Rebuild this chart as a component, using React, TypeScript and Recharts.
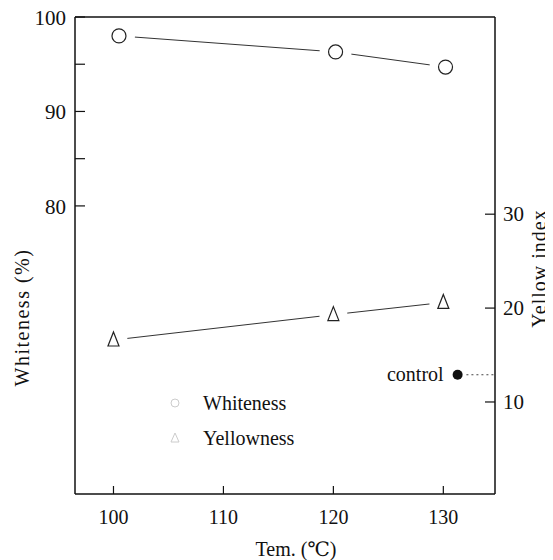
import React from 'react'
import { ComposedChart, Line, Scatter, XAxis, YAxis, ReferenceLine, Label } from 'recharts'

const whitenessTemp = [100.5, 120.2, 130.2]
const whitenessValues = [98.0, 96.3, 94.7]
const yellowTemp = [100, 120, 130]
const yellowValues = [16.6, 19.3, 20.6]
const controlTemp = [131.3]
const controlValues = [12.9]
const xTicks = [100, 110, 120, 130]
const leftTicks = [80, 85, 90, 95, 100]
const leftLabels = [80, 90, 100]
const rightTicks = [10, 20, 30]
const legendItems = [
    { name: 'Whiteness', marker: 'circle' },
    { name: 'Yellowness', marker: 'triangle' },
]

const FONT = 'Liberation Serif, DejaVu Serif, serif'
const INK = '#111'

const whitenessData = whitenessTemp.map((x, i) => ({ x, y: whitenessValues[i] }))
const yellowData = yellowTemp.map((x, i) => ({ x, y: yellowValues[i] }))
const controlData = controlTemp.map((x, i) => ({ x, y: controlValues[i] }))

const LeftTick = ({ x, y, payload }: any) => (
    <g>
        <line x1={x} y1={y} x2={x + 10} y2={y} stroke={INK} strokeWidth={1.2} />
        {leftLabels.includes(payload.value) && (
            <text x={x - 9} y={y} dy={8} textAnchor="end" style={{ fontFamily: FONT }} fontSize={21} fill={INK}>
                {payload.value}
            </text>
        )}
    </g>
)

const RightTick = ({ x, y, payload }: any) => (
    <g>
        <line x1={x} y1={y} x2={x - 10} y2={y} stroke={INK} strokeWidth={1.2} />
        <text x={x + 8} y={y} dy={7} textAnchor="start" style={{ fontFamily: FONT }} fontSize={21} fill={INK}>
            {payload.value}
        </text>
    </g>
)

const BottomTick = ({ x, y, payload }: any) => (
    <g>
        <line x1={x} y1={y} x2={x} y2={y - 8} stroke={INK} strokeWidth={1.2} />
        <text x={x} y={y} dy={30} textAnchor="middle" style={{ fontFamily: FONT }} fontSize={20} fill={INK}>
            {payload.value}
        </text>
    </g>
)

const CircleDot = ({ cx, cy }: any) => (
    <g>
        <circle cx={cx} cy={cy} r={16} fill="#fff" />
        <circle cx={cx} cy={cy} r={7} fill="#fff" stroke="#222" strokeWidth={1.2} />
    </g>
)

const TriangleDot = ({ cx, cy }: any) => (
    <g>
        <circle cx={cx} cy={cy} r={14} fill="#fff" />
        <path d={`M${cx},${cy - 8} L${cx + 5.5},${cy + 6} L${cx - 5.5},${cy + 6} Z`} fill="#fff" stroke="#222" strokeWidth={1.2} />
    </g>
)

const ControlShape = ({ cx, cy }: any) => (
    <g>
        <circle cx={cx} cy={cy} r={5} fill={INK} />
        <text x={cx - 14} y={cy} dy={6} textAnchor="end" style={{ fontFamily: FONT }} fontSize={20} fill={INK}>
            control
        </text>
    </g>
)

const LeftTitle = ({ viewBox }: any) => {
    const cx = viewBox.x + 7
    const cy = viewBox.y + viewBox.height / 2 + 62
    return (
        <text x={cx} y={cy} dy={7} transform={`rotate(-90 ${cx} ${cy})`} textAnchor="middle"
            style={{ fontFamily: FONT }} fontSize={20} letterSpacing={1.5} fill={INK}>
            Whiteness  (%)
        </text>
    )
}

const RightTitle = ({ viewBox }: any) => {
    const cx = viewBox.x + 44
    const cy = viewBox.y + viewBox.height / 2 + 13
    return (
        <text x={cx} y={cy} dy={7} transform={`rotate(-90 ${cx} ${cy})`} textAnchor="middle"
            style={{ fontFamily: FONT }} fontSize={20} letterSpacing={1} fill={INK}>
            Yellow  index
        </text>
    )
}

const App = () => {
    return (
        // pull the chart over the top/left body margin so edge labels are not clipped
        <div style={{ position: 'relative', width: 553, height: 560, margin: '-8px -8px 0 -8px' }}>
            <ComposedChart width={553} height={560} margin={{ top: 17, right: 8, bottom: 16, left: 15 }}>
                <XAxis
                    type="number"
                    dataKey="x"
                    domain={[96.5, 134.7]}
                    allowDataOverflow
                    ticks={xTicks}
                    interval={0}
                    tickSize={0}
                    tickMargin={0}
                    tickLine={false}
                    tick={<BottomTick />}
                    height={50}
                    axisLine={{ stroke: INK, strokeWidth: 1.5 }}
                >
                    <Label value="Tem.  (℃)" position="bottom" offset={-2} dx={11}
                        style={{ fontFamily: FONT }} fontSize={20} fill={INK} />
                </XAxis>
                <YAxis
                    yAxisId="left"
                    type="number"
                    domain={[49.5, 100]}
                    allowDataOverflow
                    ticks={leftTicks}
                    interval={0}
                    tickSize={0}
                    tickMargin={0}
                    tickLine={false}
                    tick={<LeftTick />}
                    width={60}
                    axisLine={{ stroke: INK, strokeWidth: 1.5 }}
                >
                    <Label content={<LeftTitle />} />
                </YAxis>
                <YAxis
                    yAxisId="right"
                    orientation="right"
                    type="number"
                    domain={[0.2, 51]}
                    allowDataOverflow
                    ticks={rightTicks}
                    interval={0}
                    tickSize={0}
                    tickMargin={0}
                    tickLine={false}
                    tick={<RightTick />}
                    width={50}
                    axisLine={{ stroke: INK, strokeWidth: 1.5 }}
                >
                    <Label content={<RightTitle />} />
                </YAxis>
                <ReferenceLine yAxisId="left" y={100} stroke={INK} strokeWidth={1.5} />
                <ReferenceLine
                    yAxisId="right"
                    segment={[{ x: controlTemp[0] + 0.8, y: controlValues[0] }, { x: 134.7, y: controlValues[0] }]}
                    stroke="#444"
                    strokeDasharray="2 3"
                />
                <Line
                    yAxisId="left"
                    data={whitenessData}
                    dataKey="y"
                    stroke="#333"
                    strokeWidth={1}
                    dot={(p: any) => <CircleDot key={`w-${p.index}`} {...p} />}
                    activeDot={false}
                    isAnimationActive={false}
                />
                <Line
                    yAxisId="right"
                    data={yellowData}
                    dataKey="y"
                    stroke="#333"
                    strokeWidth={1}
                    dot={(p: any) => <TriangleDot key={`y-${p.index}`} {...p} />}
                    activeDot={false}
                    isAnimationActive={false}
                />
                <Scatter
                    yAxisId="right"
                    data={controlData}
                    dataKey="y"
                    shape={<ControlShape />}
                    isAnimationActive={false}
                />
            </ComposedChart>
            {legendItems.map((item, i) => (
                <div
                    key={item.name}
                    style={{
                        position: 'absolute',
                        left: 166,
                        top: 391 + i * 35,
                        height: 24,
                        display: 'flex',
                        alignItems: 'center',
                        fontFamily: FONT,
                        fontSize: 20,
                        color: INK,
                    }}
                >
                    <svg width={18} height={18} style={{ marginRight: 19 }}>
                        {item.marker === 'circle'
                            ? <circle cx={9} cy={9} r={4} fill="none" stroke="#ccc" strokeWidth={1} />
                            : <path d="M9,4 L13,13 L5,13 Z" fill="none" stroke="#ccc" strokeWidth={1} />}
                    </svg>
                    <span>{item.name}</span>
                </div>
            ))}
        </div>
    )
}

export default App
